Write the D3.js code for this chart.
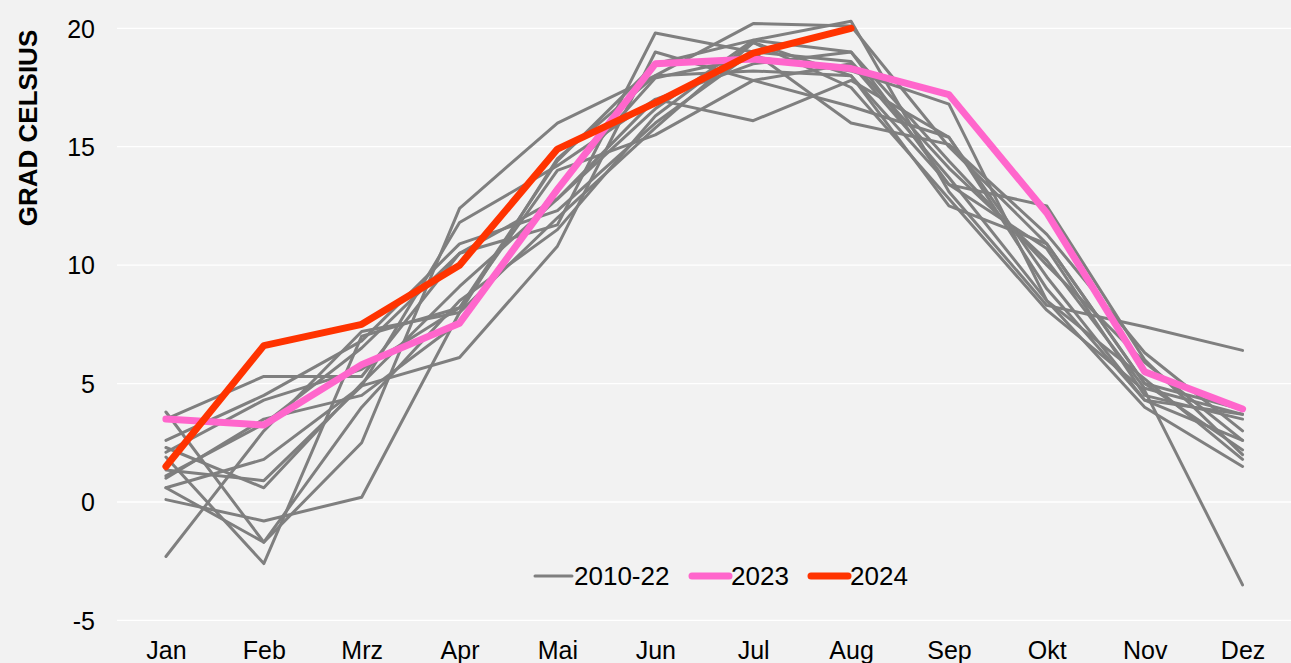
<!DOCTYPE html>
<html lang="de">
<head>
<meta charset="utf-8">
<script src="https://d3js.org/d3.v7.min.js"></script>
<style>
  body { margin: 0; background: #f2f2f2; }
  text { font-family: "Liberation Sans", Arial, sans-serif; fill: #000; }
</style>
</head>
<body>
<div id="chart"></div>
<script>
// Monatsmittel, Grad Celsius
const months = ["Jan", "Feb", "Mrz", "Apr", "Mai", "Jun", "Jul", "Aug", "Sep", "Okt", "Nov", "Dez"];

const y2010 = [0.6, -1.7, 4.0, 8.5, 11.5, 16.3, 19.4, 17.5, 12.8, 8.1, 4.7, -3.5];
const y2011 = [1.35, 0.9, 4.9, 11.8, 14.2, 17.0, 16.1, 17.8, 15.4, 9.0, 4.3, 3.7];
const y2012 = [1.9, -2.6, 7.0, 8.2, 14.0, 15.5, 17.8, 18.5, 13.7, 8.5, 5.2, 1.8];
const y2013 = [0.1, -0.8, 0.2, 8.0, 12.0, 15.8, 19.4, 18.0, 13.4, 10.7, 4.5, 3.5];
const y2014 = [2.6, 4.5, 6.8, 10.9, 12.3, 16.0, 19.0, 16.0, 15.1, 11.3, 6.3, 3.0];
const y2015 = [2.3, 0.6, 5.0, 9.1, 12.8, 16.6, 19.5, 20.3, 13.1, 8.3, 7.4, 6.4];
const y2016 = [1.0, 3.5, 4.5, 7.6, 13.3, 17.9, 18.8, 18.2, 16.8, 8.5, 4.0, 1.5];
const y2017 = [-2.3, 3.0, 7.2, 8.0, 14.5, 18.0, 18.2, 18.0, 12.5, 10.9, 5.0, 2.2];
const y2018 = [3.8, -1.7, 2.5, 12.4, 16.0, 18.0, 20.2, 20.1, 15.0, 10.9, 5.0, 3.9];
const y2019 = [1.1, 3.3, 6.5, 10.5, 11.7, 19.8, 19.0, 18.6, 14.1, 10.2, 4.8, 3.7];
const y2020 = [3.5, 5.3, 5.3, 10.5, 12.8, 17.0, 18.5, 19.0, 14.4, 10.0, 5.9, 2.6];
const y2021 = [0.6, 1.8, 4.9, 6.1, 10.8, 19.0, 17.8, 16.7, 15.4, 9.5, 4.3, 2.6];
const y2022 = [2.1, 4.3, 5.6, 8.2, 14.4, 18.5, 19.5, 19.0, 13.4, 12.5, 6.0, 2.0];
const greyYears = [y2010, y2011, y2012, y2013, y2014, y2015, y2016, y2017, y2018, y2019, y2020, y2021, y2022];

const y2023 = [3.5, 3.25, 5.8, 7.55, 13.2, 18.5, 18.7, 18.3, 17.2, 12.2, 5.5, 3.93];
const y2024 = [1.5, 6.6, 7.5, 10.0, 14.9, 16.85, 18.95, 20.0];

const yTicks = [-5, 0, 5, 10, 15, 20];
const legendLabels = ["2010-22", "2023", "2024"];

const W = 1291, H = 663;
const grey = "#7f7f7f", pink = "#ff66cc", red = "#ff3300";

const svg = d3.select("#chart").append("svg")
  .attr("width", W).attr("height", H);

svg.append("rect").attr("width", W).attr("height", H).attr("fill", "#f2f2f2");

const x = d3.scalePoint().domain(months).range([117, 1291.5]).padding(0.5);
const y = d3.scaleLinear().domain([-5, 20]).range([620.4, 28.3]);

// gridlines
svg.append("g").selectAll("line").data(yTicks).enter().append("line")
  .attr("x1", 117).attr("x2", W)
  .attr("y1", d => y(d)).attr("y2", d => y(d))
  .attr("stroke", "#ffffff").attr("stroke-width", 1.3);

// y axis labels (plain hyphen for negatives, like the original)
const yAxis = svg.append("g").attr("transform", "translate(95,0)")
  .call(d3.axisLeft(y).tickValues(yTicks).tickSize(0).tickPadding(0).tickFormat(d => String(d)));
yAxis.select(".domain").remove();
yAxis.selectAll("text").style("font-size", "25px").attr("dy", "0.35em")
  .style("font-family", "Liberation Sans, Arial, sans-serif").attr("fill", "#000");

// x axis labels
const xAxis = svg.append("g").attr("transform", "translate(0,641)")
  .call(d3.axisBottom(x).tickSize(0).tickPadding(0));
xAxis.select(".domain").remove();
xAxis.selectAll("text").style("font-size", "25px").attr("dy", "0.71em")
  .style("font-family", "Liberation Sans, Arial, sans-serif").attr("fill", "#000");

// axis title
svg.append("text")
  .attr("transform", "translate(37,128) rotate(-90)")
  .attr("text-anchor", "middle")
  .style("font-size", "26px").style("font-weight", "bold")
  .text("GRAD CELSIUS");

const line = d3.line()
  .x((d, i) => x(months[i]))
  .y(d => y(d));

svg.append("g").selectAll("path").data(greyYears).enter().append("path")
  .attr("d", line)
  .attr("fill", "none").attr("stroke", grey).attr("stroke-width", 3)
  .attr("stroke-linejoin", "round").attr("stroke-linecap", "round");

svg.append("path").datum(y2023).attr("d", line)
  .attr("fill", "none").attr("stroke", pink).attr("stroke-width", 7)
  .attr("stroke-linejoin", "round").attr("stroke-linecap", "round");

svg.append("path").datum(y2024).attr("d", line)
  .attr("fill", "none").attr("stroke", red).attr("stroke-width", 7)
  .attr("stroke-linejoin", "round").attr("stroke-linecap", "round");

// legend
const legendItems = [
  {label: legendLabels[0], color: grey, w: 3, x0: 535},
  {label: legendLabels[1], color: pink, w: 7, x0: 692},
  {label: legendLabels[2], color: red, w: 7, x0: 811}
];
const lg = svg.append("g");
legendItems.forEach(it => {
  lg.append("line")
    .attr("x1", it.x0).attr("x2", it.x0 + 37)
    .attr("y1", 576).attr("y2", 576)
    .attr("stroke", it.color).attr("stroke-width", it.w)
    .attr("stroke-linecap", "round");
  lg.append("text")
    .attr("x", it.x0 + 39).attr("y", 585)
    .style("font-size", "26px")
    .text(it.label);
});
</script>
</body>
</html>
